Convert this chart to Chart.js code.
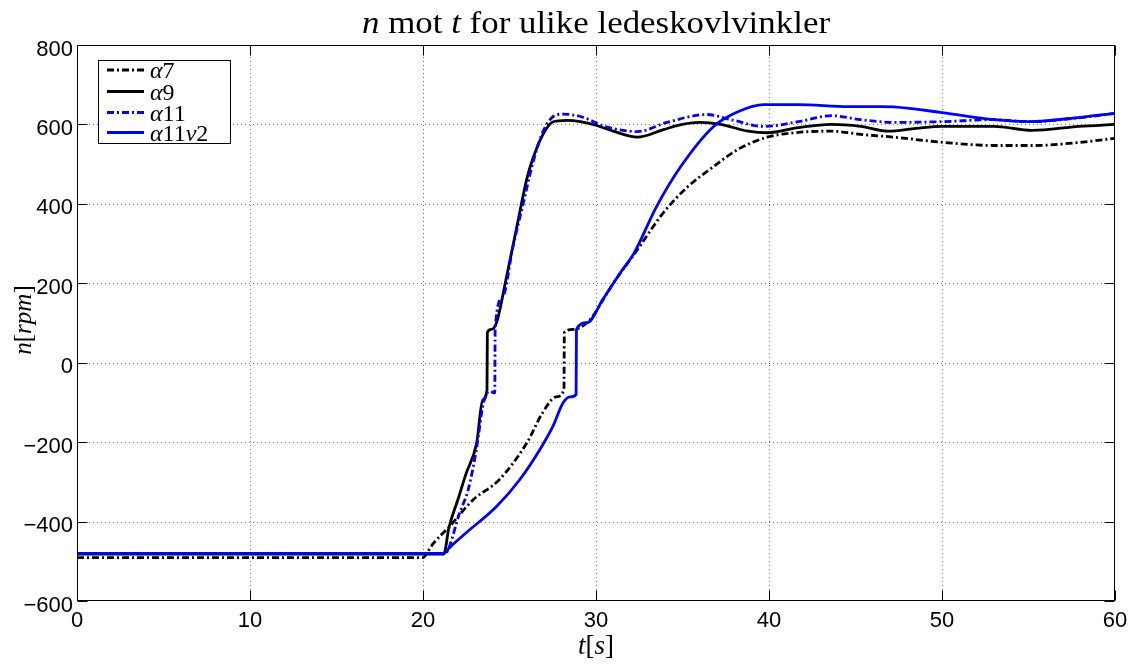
<!DOCTYPE html>
<html><head><meta charset="utf-8">
<script src="https://cdn.jsdelivr.net/npm/chart.js@4.4.0/dist/chart.umd.min.js"></script>
<style>html,body{margin:0;padding:0;background:#fff;}#wrap{width:1136px;height:666px;position:relative;}</style>
</head><body><div id="wrap"><canvas id="c" width="1136" height="666"></canvas></div>
<script>
// ---- data (t in s, n in rpm) ----
const tA7 = [0, 20.0, 20.3, 20.6, 21.5, 22.9, 24.4, 26.0, 26.9, 27.7, 28.15, 28.17, 28.7, 29.65, 30.4, 31.0, 32.4, 33.9, 35.3, 36.8, 38.2, 39.9, 41.7, 43.6, 45.3, 47.2, 50, 53, 55.4, 58, 60];
const nA7 = [-491, -491, -474, -455, -414, -345, -295, -202, -127, -86, -68, 76, 84, 108, 158, 200, 285, 378, 443, 494, 537, 568, 580, 583, 575, 568, 555, 547, 547, 555, 565];

const tA9 = [0, 21.2, 21.5, 22.0, 22.5, 23.1, 23.45, 23.7, 23.72, 23.95, 24.25, 24.8, 25.4, 26.0, 26.35, 26.9, 27.5, 28.3, 29.1, 30.0, 31.0, 32.4, 33.9, 35.0, 36.0, 37.2, 38.8, 39.9, 41.7, 43.6, 45.3, 46.9, 48.5, 50, 53, 55.2, 57.9, 60];
const nA9 = [-482, -482, -415, -347, -278, -203, -94, -68, 76, 84, 101, 210, 337, 463, 514, 572, 606, 610, 607, 598, 583, 568, 587, 600, 605, 600, 583, 579, 592, 600, 595, 583, 590, 595, 595, 585, 595, 600];

const tA11 = [0, 21.3, 21.5, 22.1, 22.6, 22.9, 23.1, 23.5, 23.85, 24.15, 24.17, 24.6, 25.2, 25.8, 26.35, 26.9, 27.5, 28.1, 29.1, 30.6, 32.4, 34.1, 36.4, 37.8, 39.7, 41.7, 43.6, 45.3, 47.2, 50, 53, 55, 58, 60];
const nA11 = [-480, -480, -466, -380, -322, -263, -215, -100, -72, -76, 84, 165, 292, 402, 503, 578, 619, 626, 620, 594, 582, 605, 625, 612, 595, 607, 622, 612, 605, 607, 612, 607, 617, 628];

const tA11v2 = [0, 21.2, 21.55, 22.5, 24.25, 25.6, 26.75, 27.5, 28.1, 28.5, 28.85, 28.87, 29.5, 30.4, 31.4, 32.2, 33.5, 34.9, 36.8, 38.2, 39.7, 41.7, 44.6, 46.5, 47.2, 50, 53, 55, 58, 60];
const nA11v2 = [-480, -480, -465, -428, -362, -294, -219, -161, -101, -86, -80, 84, 101, 160, 226, 276, 393, 494, 595, 632, 650, 650, 645, 645, 644, 630, 612, 607, 618, 628];

const xTicks = [0, 10, 20, 30, 40, 50, 60];
const yTicks = [-600, -400, -200, 0, 200, 400, 600, 800];
const legendLabels = [
  [['α', 1], ['7', 0]],
  [['α', 1], ['9', 0]],
  [['α', 1], ['11', 0]],
  [['α', 1], ['11', 0], ['v', 1], ['2', 0]]
];
const titleParts = [['n', 1], [' mot ', 0], ['t', 1], [' for ulike ledeskovlvinkler', 0]];
const xLabelParts = [['t', 1], ['[', 0], ['s', 1], [']', 0]];
const yLabelParts = [['n', 1], ['[', 0], ['rpm', 1], [']', 0]];

// ---- build ----
const pts = (t, n) => t.map((v, i) => ({ x: v, y: n[i] }));
const DASHDOT = [7, 3, 2, 3];
const BLUE = '#0000ff';
const datasets = [
  { label: 'α7', data: pts(tA7, nA7), borderColor: '#000', borderDash: DASHDOT, order: 4 },
  { label: 'α9', data: pts(tA9, nA9), borderColor: '#000', borderDash: [], order: 3 },
  { label: 'α11', data: pts(tA11, nA11), borderColor: BLUE, borderDash: DASHDOT, order: 2 },
  { label: 'α11v2', data: pts(tA11v2, nA11v2), borderColor: BLUE, borderDash: [], order: 1 }
].map(d => Object.assign(d, { showLine: true, pointRadius: 0, borderWidth: 2.8, cubicInterpolationMode: 'monotone', fill: false, backgroundColor: d.borderColor }));

const SERIF = '"Liberation Serif", "Times New Roman", serif';
const SANS = '"Liberation Sans", Arial, sans-serif';

function partsWidth(ctx, parts, size) {
  let w = 0;
  parts.forEach(([s, it]) => { ctx.font = (it ? 'italic ' : '') + size + 'px ' + SERIF; w += ctx.measureText(s).width; });
  return w;
}
function drawParts(ctx, parts, x, y, size) {
  let cx = x;
  parts.forEach(([s, it]) => {
    ctx.font = (it ? 'italic ' : '') + size + 'px ' + SERIF;
    ctx.fillText(s, cx, y);
    cx += ctx.measureText(s).width;
  });
  return cx;
}

const deco = {
  id: 'deco',
  beforeDatasetsDraw(chart) {
    const { ctx, chartArea: a, scales: { x, y } } = chart;
    ctx.save();
    ctx.strokeStyle = 'rgba(0,0,0,0.55)';
    ctx.lineWidth = 1;
    ctx.setLineDash([1, 3]);
    xTicks.slice(1, -1).forEach(v => {
      const px = Math.round(x.getPixelForValue(v)) + 0.5;
      ctx.beginPath(); ctx.moveTo(px, a.top); ctx.lineTo(px, a.bottom); ctx.stroke();
    });
    yTicks.slice(1, -1).forEach(v => {
      const py = Math.round(y.getPixelForValue(v)) + 0.5;
      ctx.beginPath(); ctx.moveTo(a.left, py); ctx.lineTo(a.right, py); ctx.stroke();
    });
    ctx.restore();
  },
  afterDatasetsDraw(chart) {
    const { ctx, chartArea: a, scales: { x, y } } = chart;
    ctx.save();
    ctx.setLineDash([]);
    ctx.strokeStyle = '#000';
    ctx.lineWidth = 1;
    const L = Math.round(a.left) + 0.5, R = Math.round(a.right) - 0.5, T = Math.round(a.top) + 0.5, B = Math.round(a.bottom) - 0.5;
    ctx.strokeRect(L, T, R - L, B - T);
    const TL = 10;
    ctx.beginPath();
    xTicks.forEach(v => {
      const px = Math.round(x.getPixelForValue(v)) + 0.5;
      ctx.moveTo(px, B); ctx.lineTo(px, B - TL);
      ctx.moveTo(px, T); ctx.lineTo(px, T + TL);
    });
    yTicks.forEach(v => {
      const py = Math.round(y.getPixelForValue(v)) + 0.5;
      ctx.moveTo(L, py); ctx.lineTo(L + TL, py);
      ctx.moveTo(R, py); ctx.lineTo(R - TL, py);
    });
    ctx.stroke();

    // tick labels
    ctx.fillStyle = '#000';
    ctx.font = '22px ' + SANS;
    ctx.textBaseline = 'alphabetic';
    ctx.textAlign = 'center';
    xTicks.forEach(v => ctx.fillText(String(v), x.getPixelForValue(v), a.bottom + 26));
    ctx.textAlign = 'right';
    yTicks.forEach(v => ctx.fillText((v < 0 ? '\u2212' : '') + Math.abs(v), a.left - 4, y.getPixelForValue(v) + 10.5));

    // legend
    ctx.textAlign = 'left';
    const lx = 98.5, ly = 60.5, lw = 132, lh = 83;
    ctx.fillStyle = '#fff';
    ctx.fillRect(lx, ly, lw, lh);
    ctx.strokeStyle = '#000'; ctx.lineWidth = 1;
    ctx.strokeRect(lx, ly, lw, lh);
    const rowY = [70, 91.5, 112.5, 132.5];
    chart.data.datasets.forEach((d, i) => {
      ctx.save();
      ctx.strokeStyle = d.borderColor;
      ctx.lineWidth = d.borderWidth;
      ctx.setLineDash(d.borderDash || []);
      ctx.beginPath(); ctx.moveTo(107, rowY[i]); ctx.lineTo(144, rowY[i]); ctx.stroke();
      ctx.restore();
      ctx.fillStyle = '#000';
      drawParts(ctx, legendLabels[i], 150, rowY[i] + 8, 24);
    });

    // title
    ctx.fillStyle = '#000';
    const tsize = 32;
    const tw = partsWidth(ctx, titleParts, tsize);
    const target = 468;
    ctx.save();
    ctx.translate(596 - target / 2, 33);
    ctx.scale(target / tw, 1);
    drawParts(ctx, titleParts, 0, 0, tsize);
    ctx.restore();

    // x label
    const xs = 27;
    const xw = partsWidth(ctx, xLabelParts, xs);
    drawParts(ctx, xLabelParts, (a.left + a.right) / 2 - xw / 2, 654, xs);

    // y label (rotated)
    const ys = 25;
    const yw = partsWidth(ctx, yLabelParts, ys);
    ctx.save();
    ctx.translate(31, (a.top + a.bottom) / 2);
    ctx.rotate(-Math.PI / 2);
    drawParts(ctx, yLabelParts, -yw / 2 + 3, 0, ys);
    ctx.restore();

    ctx.restore();
  }
};

new Chart(document.getElementById('c'), {
  type: 'scatter',
  data: { datasets },
  options: {
    responsive: false,
    animation: false,
    devicePixelRatio: 1,
    layout: { padding: { top: 45, right: 21, left: 0, bottom: 0 } },
    plugins: { legend: { display: false }, title: { display: false }, tooltip: { enabled: false } },
    scales: {
      x: {
        type: 'linear', min: 0, max: 60,
        ticks: { display: false, stepSize: 10 },
        grid: { display: false }, border: { display: false },
        afterFit: s => { s.height = 65; }
      },
      y: {
        type: 'linear', min: -600, max: 800,
        ticks: { display: false, stepSize: 200 },
        grid: { display: false }, border: { display: false },
        afterFit: s => { s.width = 77; }
      }
    }
  },
  plugins: [deco]
});
</script>
</body></html>
